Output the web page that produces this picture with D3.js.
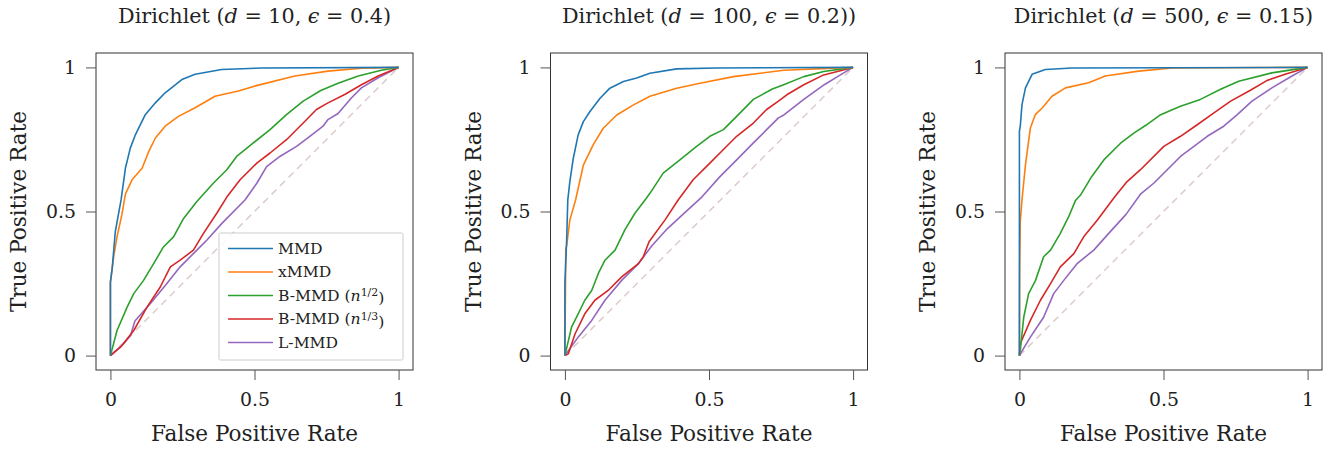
<!DOCTYPE html>
<html><head><meta charset="utf-8">
<script src="https://cdn.jsdelivr.net/npm/d3@7"></script>
<style>body{margin:0;background:#fff}svg{display:block}text{font-family:"DejaVu Serif",serif;fill:#222}</style>
</head><body>
<svg id="c" width="1324" height="449"></svg>
<script>
const methods = ["MMD","xMMD","B-MMD (n^1/2)","B-MMD (n^1/3)","L-MMD"];
const colors = ["#1f77b4","#ff7f0e","#2ca02c","#d62728","#9467bd"];
const titles = [
  {d:"10", eps:"0.4", tail:")"},
  {d:"100", eps:"0.2", tail:"))"},
  {d:"500", eps:"0.15", tail:")"}
];
const tickValues = [0, 0.5, 1];
const tickLabels = ["0","0.5","1"];

// panel 1: [fpr, tpr]
const p1_mmd = [[0,0],[0,0.255],[0.006,0.3],[0.017,0.43],[0.037,0.54],[0.052,0.65],[0.069,0.72],[0.087,0.767],[0.121,0.836],[0.156,0.877],[0.19,0.912],[0.248,0.958],[0.294,0.976],[0.386,0.993],[0.525,0.998],[1,1]];
const p1_xmmd = [[0,0],[0,0.255],[0.012,0.348],[0.023,0.412],[0.04,0.49],[0.052,0.56],[0.075,0.61],[0.11,0.65],[0.133,0.708],[0.156,0.755],[0.19,0.796],[0.236,0.83],[0.294,0.86],[0.363,0.9],[0.444,0.918],[0.5,0.935],[0.64,0.97],[0.755,0.987],[0.87,0.997],[1,1]];
const p1_b2 = [[0,0],[0.023,0.087],[0.058,0.168],[0.081,0.215],[0.115,0.261],[0.15,0.319],[0.184,0.377],[0.219,0.412],[0.254,0.476],[0.3,0.535],[0.357,0.598],[0.404,0.645],[0.438,0.691],[0.496,0.738],[0.554,0.784],[0.611,0.836],[0.669,0.883],[0.73,0.92],[0.79,0.945],[0.86,0.97],[0.94,0.99],[1,1]];
const p1_b3 = [[0,0],[0.035,0.029],[0.081,0.087],[0.127,0.168],[0.173,0.238],[0.208,0.308],[0.242,0.331],[0.288,0.366],[0.323,0.424],[0.369,0.494],[0.404,0.55],[0.45,0.61],[0.508,0.668],[0.554,0.703],[0.611,0.749],[0.669,0.807],[0.715,0.854],[0.755,0.877],[0.813,0.906],[0.871,0.94],[0.929,0.97],[1,1]];
const p1_l = [[0,0],[0.046,0.041],[0.07,0.07],[0.085,0.12],[0.138,0.18],[0.196,0.25],[0.242,0.308],[0.3,0.366],[0.335,0.401],[0.386,0.458],[0.467,0.54],[0.508,0.598],[0.542,0.656],[0.588,0.691],[0.646,0.726],[0.692,0.761],[0.738,0.796],[0.755,0.819],[0.79,0.84],[0.836,0.894],[0.871,0.929],[0.929,0.964],[1,1]];

// panel 2
const p2_mmd = [[0,0],[0,0.25],[0.006,0.4],[0.01,0.54],[0.017,0.603],[0.029,0.684],[0.046,0.766],[0.064,0.812],[0.087,0.847],[0.122,0.893],[0.156,0.928],[0.203,0.951],[0.249,0.963],[0.295,0.98],[0.388,0.995],[0.527,0.998],[1,1]];
const p2_xmmd = [[0,0],[0.003,0.372],[0.006,0.38],[0.017,0.47],[0.037,0.54],[0.064,0.661],[0.098,0.731],[0.133,0.789],[0.18,0.835],[0.238,0.87],[0.295,0.9],[0.388,0.928],[0.469,0.945],[0.585,0.968],[0.759,0.99],[1,1]];
const p2_b2 = [[0,0],[0.023,0.099],[0.046,0.145],[0.069,0.192],[0.093,0.226],[0.116,0.285],[0.139,0.331],[0.174,0.366],[0.208,0.436],[0.243,0.494],[0.278,0.54],[0.295,0.563],[0.341,0.633],[0.399,0.679],[0.457,0.726],[0.503,0.761],[0.55,0.784],[0.596,0.83],[0.654,0.889],[0.72,0.925],[0.759,0.94],[0.829,0.968],[0.898,0.986],[1,1]];
const p2_b3 = [[0,0],[0.012,0.006],[0.035,0.075],[0.069,0.145],[0.104,0.192],[0.15,0.226],[0.197,0.273],[0.255,0.319],[0.272,0.343],[0.292,0.395],[0.347,0.47],[0.393,0.54],[0.445,0.61],[0.503,0.668],[0.538,0.703],[0.596,0.761],[0.654,0.807],[0.7,0.854],[0.741,0.883],[0.77,0.905],[0.829,0.94],[0.898,0.974],[1,1]];
const p2_l = [[0,0],[0.046,0.064],[0.093,0.122],[0.139,0.192],[0.197,0.261],[0.255,0.319],[0.301,0.38],[0.355,0.44],[0.417,0.497],[0.475,0.55],[0.538,0.621],[0.596,0.679],[0.654,0.738],[0.7,0.784],[0.741,0.825],[0.76,0.835],[0.83,0.89],[0.9,0.94],[0.956,0.974],[1,1]];

// panel 3
const p3_mmd = [[0,0],[0,0.778],[0.003,0.796],[0.009,0.871],[0.021,0.929],[0.044,0.976],[0.09,0.993],[0.183,0.998],[1,1]];
const p3_xmmd = [[0,0],[0.001,0.31],[0.003,0.465],[0.009,0.54],[0.021,0.662],[0.038,0.79],[0.055,0.836],[0.079,0.859],[0.113,0.9],[0.16,0.929],[0.24,0.947],[0.298,0.97],[0.414,0.987],[0.53,0.998],[1,1]];
const p3_b2 = [[0,0],[0.003,0.017],[0.015,0.133],[0.032,0.215],[0.056,0.261],[0.084,0.343],[0.108,0.366],[0.142,0.424],[0.171,0.482],[0.194,0.537],[0.212,0.557],[0.25,0.62],[0.293,0.679],[0.351,0.737],[0.397,0.772],[0.44,0.8],[0.49,0.836],[0.559,0.865],[0.628,0.889],[0.7,0.925],[0.761,0.952],[0.876,0.981],[1,1]];
const p3_b3 = [[0,0],[0.003,0.041],[0.038,0.122],[0.073,0.192],[0.108,0.25],[0.142,0.308],[0.189,0.354],[0.223,0.412],[0.27,0.47],[0.327,0.546],[0.37,0.6],[0.42,0.645],[0.501,0.726],[0.559,0.761],[0.617,0.801],[0.675,0.842],[0.733,0.883],[0.8,0.92],[0.86,0.955],[0.922,0.976],[1,1]];
const p3_l = [[0,0],[0.003,0.006],[0.038,0.064],[0.084,0.133],[0.119,0.215],[0.154,0.261],[0.2,0.319],[0.258,0.366],[0.31,0.424],[0.37,0.49],[0.42,0.56],[0.466,0.598],[0.559,0.691],[0.652,0.761],[0.709,0.796],[0.756,0.836],[0.807,0.883],[0.876,0.929],[0.946,0.97],[1,1]];

const panels = [
  [p1_mmd,p1_xmmd,p1_b2,p1_b3,p1_l],
  [p2_mmd,p2_xmmd,p2_b2,p2_b3,p2_l],
  [p3_mmd,p3_xmmd,p3_b2,p3_b3,p3_l]
];

const svg = d3.select("#c");
const lefts = [96, 550.5, 1005];
const W = 317, topY = 53, H = 317;

function fitSize(str, target, base) {
  const t = svg.append("text").style("font-size", base + "px").text(str);
  const w = t.node().getComputedTextLength();
  t.remove();
  return base * target / w;
}
const FS_TICK = fitSize("0.5", 30, 20);
const FS_LAB = fitSize("False Positive Rate", 207, 20);
const FS_TITLE = fitSize("Dirichlet (d = 10, ϵ = 0.4)", 273, 20);
const FS_LEG = fitSize("MMD", 44.5, 15);

panels.forEach((series, pi) => {
  const g = svg.append("g").attr("transform", `translate(${lefts[pi]},${topY})`);
  const x = d3.scaleLinear().domain([-0.05,1.05]).range([0,W]);
  const y = d3.scaleLinear().domain([-0.05,1.05]).range([H,0]);

  g.append("line").attr("x1",x(0)).attr("y1",y(0)).attr("x2",x(1)).attr("y2",y(1))
    .attr("stroke","#8c564b").attr("stroke-opacity",0.3).attr("stroke-width",1.5).attr("stroke-dasharray","7,5");

  const line = d3.line().x(d=>x(d[0])).y(d=>y(d[1]));
  series.map((s,i)=>({s,i})).reverse().forEach(({s,i}) => {
    g.append("path").datum(s).attr("d",line).attr("fill","none")
      .attr("stroke",colors[i]).attr("stroke-width",1.6).attr("stroke-linejoin","round");
  });

  g.append("rect").attr("x",0).attr("y",0).attr("width",W).attr("height",H)
    .attr("fill","none").attr("stroke","#333").attr("stroke-width",1);

  const xa = d3.axisBottom(x).tickValues(tickValues).tickFormat((d,i)=>tickLabels[i]).tickSize(10).tickPadding(13);
  const ya = d3.axisLeft(y).tickValues(tickValues).tickFormat((d,i)=>tickLabels[i]).tickSize(10).tickPadding(10);
  const gx = g.append("g").attr("transform",`translate(0,${H})`).call(xa);
  const gy = g.append("g").call(ya);
  [gx,gy].forEach(a=>{
    a.select(".domain").remove();
    a.selectAll(".tick line").attr("stroke","#555");
    a.selectAll(".tick text").style("font-size",FS_TICK+"px").attr("fill","#222")
      .style("font-family",'"DejaVu Serif",serif');
  });
  gx.selectAll(".tick text").attr("dy","0.71em");

  g.append("text").attr("x",W/2).attr("y",H+71).attr("text-anchor","middle")
    .style("font-size",FS_LAB+"px").text("False Positive Rate");
  g.append("text").attr("transform",`translate(${-70},${H/2}) rotate(-90)`).attr("text-anchor","middle")
    .style("font-size",FS_LAB+"px").text("True Positive Rate");

  const t = titles[pi];
  const tt = g.append("text").attr("x",W/2).attr("y",-30).attr("text-anchor","middle").style("font-size",FS_TITLE+"px");
  tt.append("tspan").text("Dirichlet (");
  tt.append("tspan").attr("font-style","italic").text("d");
  tt.append("tspan").text(" = " + t.d + ", ");
  tt.append("tspan").attr("font-style","italic").text("ϵ");
  tt.append("tspan").text(" = " + t.eps + t.tail);

  if (pi === 0) {
    const lg = g.append("g").attr("transform",`translate(${219-96},${233-53})`);
    lg.append("rect").attr("width",184).attr("height",127).attr("fill","#fff").attr("fill-opacity",0.85)
      .attr("stroke","#ccc").attr("stroke-width",1).attr("rx",1.5);
    methods.forEach((m,i)=>{
      const yy = 15.5 + i*23.5;
      lg.append("line").attr("x1",9).attr("x2",54).attr("y1",yy).attr("y2",yy)
        .attr("stroke",colors[i]).attr("stroke-width",1.6);
      const tx = lg.append("text").attr("x",59).attr("y",yy).attr("dy","0.35em").style("font-size",FS_LEG+"px");
      const mm = m.match(/^(.*) \(n\^(.*)\)$/);
      if (mm) {
        tx.append("tspan").text(mm[1] + " (");
        tx.append("tspan").attr("font-style","italic").text("n");
        tx.append("tspan").attr("dy","-0.45em").style("font-size",(FS_LEG*0.7)+"px").text(mm[2]);
        tx.append("tspan").attr("dy","0.45em").text(")");
      } else {
        tx.text(m);
      }
    });
  }
});
</script>
</body></html>
